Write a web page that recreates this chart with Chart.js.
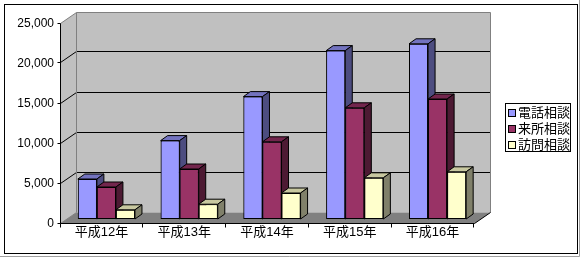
<!DOCTYPE html>
<html>
<head>
<meta charset="utf-8">
<script src="https://cdn.jsdelivr.net/npm/chart.js@4"></script>
<style>
  html, body { margin: 0; padding: 0; background: #fff; overflow: hidden; }
</style>
</head>
<body>
<canvas id="chart" width="581" height="259"></canvas>
<script>
// data
const years = ['平成12年', '平成13年', '平成14年', '平成15年', '平成16年'];
const seriesNames = ['電話相談', '来所相談', '訪問相談'];
const phoneCounts = [5000, 9800, 15300, 21050, 21900];
const visitCounts = [4000, 6250, 9650, 13900, 15000];
const homeCounts = [1150, 1850, 3250, 5150, 5900];
const yMax = 25000;
const yStep = 5000;

// look
const frontColors = ['#9999FF', '#993366', '#FFFFCC'];
const topColors = ['#7373BF', '#73264D', '#C8C8A0'];
const sideColors = ['#4D4D80', '#4D1A33', '#80806A'];
const FONT = '"Liberation Sans", "Noto Sans CJK JP", sans-serif';

const WALL_DX = 16, WALL_DY = 11;   // depth of the floor / walls
const BAR_DX = 7, BAR_DY = 5;       // depth of each column
const SHIFT_X = 5, SHIFT_Y = -4;    // columns sit a bit back on the floor

const fmt = v => v.toLocaleString('en-US');

function path(ctx, pts) {
    ctx.beginPath();
    ctx.moveTo(pts[0][0], pts[0][1]);
    for (let i = 1; i < pts.length; i++) ctx.lineTo(pts[i][0], pts[i][1]);
}
function fillPoly(ctx, pts, color) {
    path(ctx, pts);
    ctx.closePath();
    ctx.fillStyle = color;
    ctx.fill();
}
function strokeLine(ctx, pts, color) {
    path(ctx, pts);
    ctx.strokeStyle = color;
    ctx.lineWidth = 1;
    ctx.stroke();
}

const frame3d = {
    id: 'frame3d',
    beforeDraw(chart) {
        const ctx = chart.ctx;
        ctx.save();
        ctx.fillStyle = '#fff';
        ctx.fillRect(0, 0, chart.width, chart.height);
        ctx.restore();
    },
    beforeDatasetsDraw(chart) {
        const { ctx, chartArea: a, scales: { x, y } } = chart;
        const L = Math.floor(a.left) + 0.5, R = Math.floor(a.right) + 0.5;
        const B = Math.floor(y.getPixelForValue(0)) + 0.5;
        const T = Math.floor(y.getPixelForValue(yMax)) + 0.5;
        ctx.save();
        // walls and floor
        fillPoly(ctx, [[L, B], [L, T], [L + WALL_DX, T - WALL_DY], [L + WALL_DX, B - WALL_DY]], '#C0C0C0');
        fillPoly(ctx, [[L + WALL_DX, T - WALL_DY], [R + WALL_DX, T - WALL_DY], [R + WALL_DX, B - WALL_DY], [L + WALL_DX, B - WALL_DY]], '#C0C0C0');
        fillPoly(ctx, [[L, B], [R, B], [R + WALL_DX, B - WALL_DY], [L + WALL_DX, B - WALL_DY]], '#808080');
        // gridlines
        for (let v = yStep; v < yMax; v += yStep) {
            const yf = Math.floor(y.getPixelForValue(v)) + 0.5;
            strokeLine(ctx, [[L, yf], [L + WALL_DX, yf - WALL_DY], [R + WALL_DX, yf - WALL_DY]], '#000');
        }
        // wall outlines
        strokeLine(ctx, [[L, T], [L + WALL_DX, T - WALL_DY], [R + WALL_DX, T - WALL_DY], [R + WALL_DX, B - WALL_DY]], '#808080');
        strokeLine(ctx, [[L + WALL_DX, T - WALL_DY], [L + WALL_DX, B - WALL_DY]], '#808080');
        strokeLine(ctx, [[L, B], [L + WALL_DX, B - WALL_DY]], '#808080');
        strokeLine(ctx, [[R, B], [R + WALL_DX, B - WALL_DY]], '#000');
        // axes and tick marks
        strokeLine(ctx, [[L, T], [L, B]], '#000');
        strokeLine(ctx, [[L, B], [R, B]], '#000');
        for (let v = 0; v <= yMax; v += yStep) {
            const yf = Math.floor(y.getPixelForValue(v)) + 0.5;
            strokeLine(ctx, [[L - 3, yf], [L, yf]], '#000');
        }
        const step = x.getPixelForValue(1) - x.getPixelForValue(0);
        for (let i = 0; i <= years.length; i++) {
            const xb = Math.floor(x.getPixelForValue(0) - step / 2 + i * step) + 0.5;
            strokeLine(ctx, [[xb, B], [xb, B + 4]], '#000');
        }
        ctx.restore();
        // columns stand a little back on the floor
        ctx.save();
        ctx.translate(SHIFT_X, SHIFT_Y);
    },
    afterDatasetsDraw(chart) {
        const ctx = chart.ctx;
        // redraw each group left to right so the side faces overlap correctly
        for (let i = 0; i < years.length; i++) {
            chart.data.datasets.forEach((ds, d) => {
                const bar = chart.getDatasetMeta(d).data[i];
                bar.draw(ctx);
                const l = bar.x - bar.width / 2, r = bar.x + bar.width / 2;
                const t = bar.y, b = bar.base;
                const top = [[l, t], [r, t], [r + BAR_DX, t - BAR_DY], [l + BAR_DX, t - BAR_DY]];
                const side = [[r, t], [r + BAR_DX, t - BAR_DY], [r + BAR_DX, b - BAR_DY], [r, b]];
                fillPoly(ctx, top, topColors[d]);
                path(ctx, top); ctx.closePath();
                ctx.strokeStyle = '#000'; ctx.lineWidth = 1; ctx.stroke();
                fillPoly(ctx, side, sideColors[d]);
                path(ctx, side); ctx.closePath();
                ctx.stroke();
            });
        }
        ctx.restore();
    },
    afterDraw(chart) {
        const ctx = chart.ctx;
        ctx.save();
        // legend
        const lx = 505.5, ly = 103.5, lw = 65, lh = 48;
        ctx.fillStyle = '#fff';
        ctx.fillRect(lx, ly, lw, lh);
        ctx.strokeStyle = '#000';
        ctx.lineWidth = 1;
        ctx.strokeRect(lx, ly, lw, lh);
        ctx.font = '13px ' + FONT;
        ctx.textBaseline = 'middle';
        ctx.textAlign = 'left';
        seriesNames.forEach((name, k) => {
            const cy = 113 + k * 16;
            ctx.fillStyle = frontColors[k];
            ctx.fillRect(508.5, cy - 3.5, 7, 7);
            ctx.strokeRect(508.5, cy - 3.5, 7, 7);
            ctx.fillStyle = '#000';
            ctx.fillText(name, 518, cy + 0.5);
        });
        // chart frame
        ctx.strokeRect(4.5, 4.5, 573, 249);
        strokeLine(ctx, [[0, 256.5], [579.5, 256.5], [579.5, 0]], '#A0A0A0');
        ctx.restore();
    }
};

new Chart(document.getElementById('chart'), {
    type: 'bar',
    data: {
        labels: years,
        datasets: [phoneCounts, visitCounts, homeCounts].map((vals, d) => ({
            label: seriesNames[d],
            data: vals,
            backgroundColor: frontColors[d],
            borderColor: '#000',
            borderWidth: 1,
            borderSkipped: false,
            barPercentage: 1,
            categoryPercentage: 0.69,
            clip: false
        }))
    },
    options: {
        responsive: false,
        animation: false,
        events: [],
        layout: { padding: { left: 4, top: 23, right: 107, bottom: 6 } },
        plugins: { legend: { display: false }, tooltip: { enabled: false } },
        scales: {
            x: {
                grid: { display: false, drawTicks: false },
                border: { display: false },
                ticks: { color: '#000', padding: 2, font: { family: FONT, size: 13 } },
                afterFit: s => { s.height = 30; }
            },
            y: {
                min: 0,
                max: yMax,
                grid: { display: false, drawTicks: false },
                border: { display: false },
                ticks: {
                    stepSize: yStep,
                    color: '#000',
                    padding: 6,
                    labelOffset: 1,
                    font: { family: FONT, size: 12 },
                    callback: v => fmt(v)
                },
                afterFit: s => { s.width = 56; }
            }
        }
    },
    plugins: [frame3d]
});
</script>
</body>
</html>
